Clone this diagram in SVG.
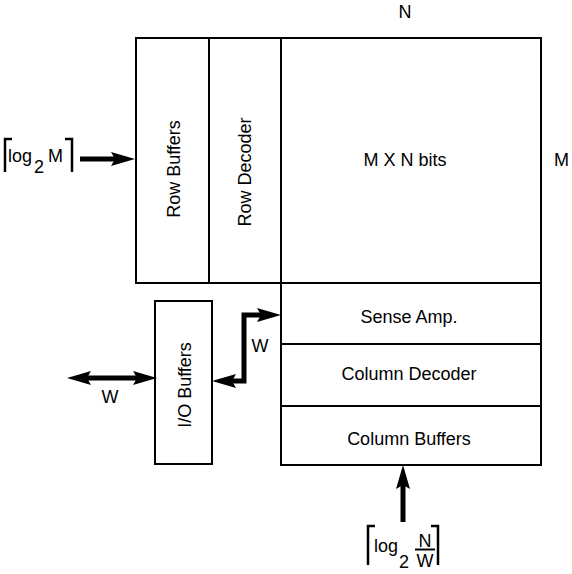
<svg xmlns="http://www.w3.org/2000/svg" width="572" height="574" viewBox="0 0 572 574">
<style>
  .box { fill: #fff; stroke: #000; stroke-width: 2; }
  .lbl { font-family: "Liberation Sans", Arial, Helvetica, sans-serif; font-size: 18px; fill: #000; }
  .mid { text-anchor: middle; }
  .conn { fill: none; stroke: #000; stroke-width: 5; }
  .brk { fill: none; stroke: #000; stroke-width: 2.5; }
</style>
<defs>
  <marker id="ah" markerUnits="userSpaceOnUse" markerWidth="24" markerHeight="14" refX="14" refY="7" orient="auto-start-reverse" viewBox="0 0 24 14">
    <path d="M0,0 L24,7 L0,14 L4,7 z" fill="#000"/>
  </marker>
</defs>
<rect width="572" height="574" fill="#fff"/>

<g id="row-buffers">
  <rect class="box" x="136" y="38" width="73" height="245"/>
  <text class="lbl mid" transform="translate(173,169) rotate(-90)" y="6.5">Row Buffers</text>
</g>
<g id="row-decoder">
  <rect class="box" x="209" y="38" width="72" height="245"/>
  <text class="lbl mid" transform="translate(244,172) rotate(-90)" y="6.5">Row Decoder</text>
</g>
<g id="array">
  <rect class="box" x="281" y="38" width="260" height="245"/>
  <text class="lbl mid" x="405" y="166">M X N bits</text>
</g>
<g id="sense-amp">
  <rect class="box" x="281" y="283" width="260" height="61"/>
  <text class="lbl mid" x="409" y="323">Sense Amp.</text>
</g>
<g id="column-decoder">
  <rect class="box" x="281" y="344" width="260" height="62"/>
  <text class="lbl mid" x="409" y="380">Column Decoder</text>
</g>
<g id="column-buffers">
  <rect class="box" x="281" y="406" width="260" height="59"/>
  <text class="lbl mid" x="409" y="445">Column Buffers</text>
</g>
<g id="io-buffers">
  <rect class="box" x="155" y="301" width="57" height="163"/>
  <text class="lbl mid" transform="translate(184,385) rotate(-90)" y="6.5">I/O Buffers</text>
</g>

<g id="dim-labels">
  <text class="lbl mid" x="405" y="18">N</text>
  <text class="lbl" x="554" y="166">M</text>
</g>

<g id="row-address">
  <polyline class="brk" points="12,139 5,139 5,172"/>
  <polyline class="brk" points="65,139 72,139 72,172"/>
  <text class="lbl" x="8" y="162" font-size="19">log</text>
  <text class="lbl" x="34" y="173" font-size="17">2</text>
  <text class="lbl" x="48" y="162" font-size="19">M</text>
</g>

<g id="col-address">
  <polyline class="brk" points="375,526 368,526 368,565"/>
  <polyline class="brk" points="431,526 438,526 438,565"/>
  <text class="lbl" x="374" y="552" font-size="19">log</text>
  <text class="lbl" x="399" y="568" font-size="17">2</text>
  <text class="lbl mid" x="425" y="547" font-size="16">N</text>
  <line x1="415" y1="549.5" x2="435" y2="549.5" stroke="#000" stroke-width="2"/>
  <text class="lbl mid" x="425" y="567" font-size="16">W</text>
</g>

<g id="connectors">
  <path class="conn" d="M80,159 H125" marker-end="url(#ah)"/>
  <path class="conn" d="M403,522 V475" marker-end="url(#ah)"/>
  <path class="conn" d="M77,378 H147" marker-start="url(#ah)" marker-end="url(#ah)"/>
  <path class="conn" d="M222,381 H244 V315 H271" marker-start="url(#ah)" marker-end="url(#ah)"/>
  <text class="lbl mid" x="110" y="403">W</text>
  <text class="lbl mid" x="260" y="352">W</text>
</g>
</svg>
